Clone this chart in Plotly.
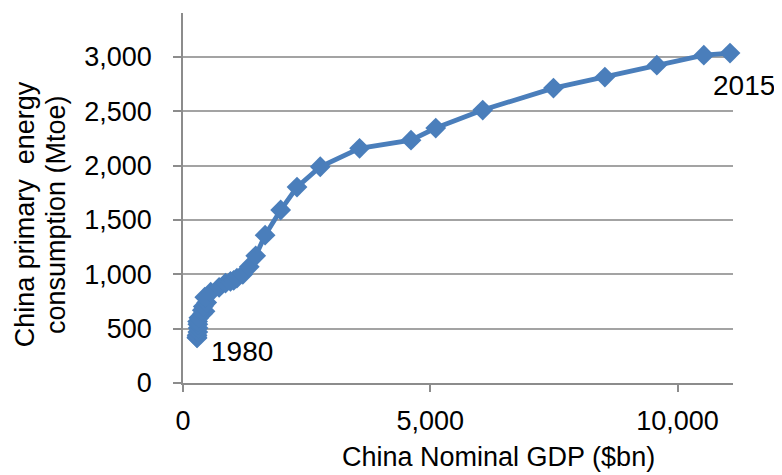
import plotly.graph_objects as go

years = list(range(1980, 2016))
gdp_bn = [285, 280, 285, 300, 305, 300, 295, 320, 400, 445, 390, 410, 480, 440, 560,
          730, 860, 960, 1025, 1090, 1210, 1340, 1470, 1660, 1975, 2305, 2775, 3570,
          4610, 5110, 6060, 7490, 8530, 9580, 10530, 11060]
energy_mtoe = [415, 420, 440, 470, 505, 540, 565, 600, 640, 660, 670, 705, 740, 790, 835,
               880, 920, 935, 945, 965, 1000, 1070, 1170, 1360, 1592, 1803, 1990, 2160,
               2235, 2346, 2512, 2714, 2815, 2925, 3017, 3036]
x_ticks = [0, 5000, 10000]
y_ticks = [0, 500, 1000, 1500, 2000, 2500, 3000]

FONT = "Liberation Sans, Arial, sans-serif"
BLUE = "#4a7ebb"
GRID = "#a3a3a3"
AXIS = "#8c8c8c"

fig = go.Figure()
fig.add_trace(go.Scatter(
    x=gdp_bn, y=energy_mtoe, mode="lines+markers",
    line=dict(color=BLUE, width=4.8),
    marker=dict(symbol="diamond", size=16, color=BLUE),
    cliponaxis=False, showlegend=False, hoverinfo="skip",
))

fig.add_annotation(x=gdp_bn[0], y=energy_mtoe[0], text=str(years[0]), showarrow=False,
                   xshift=45, yshift=-14, font=dict(size=28, color="#000", family=FONT))
fig.add_annotation(x=gdp_bn[-1], y=energy_mtoe[-1], text=str(years[-1]), showarrow=False,
                   xshift=14, yshift=-32, font=dict(size=28, color="#000", family=FONT))

# axis titles
fig.add_annotation(xref="paper", yref="paper", x=0.573, y=-0.2, text="China Nominal GDP ($bn)",
                   showarrow=False, xanchor="center", yanchor="middle",
                   font=dict(size=27, color="#000", family=FONT))
fig.add_annotation(xref="paper", yref="paper", x=-0.288, y=0.455,
                   text="China primary  energy",
                   showarrow=False, textangle=-90, xanchor="center", yanchor="middle",
                   font=dict(size=27, color="#000", family=FONT))
fig.add_annotation(xref="paper", yref="paper", x=-0.232, y=0.455,
                   text="consumption (Mtoe)",
                   showarrow=False, textangle=-90, xanchor="center", yanchor="middle",
                   font=dict(size=27, color="#000", family=FONT))

fig.update_xaxes(range=[0, 11120], tickvals=x_ticks, ticktext=[f"{v:,}" for v in x_ticks],
                 showgrid=False, zeroline=False, showline=True, linecolor=AXIS, linewidth=1.5,
                 ticks="outside", ticklen=7, tickcolor=AXIS, tickwidth=1.5,
                 ticklabelstandoff=6,
                 tickfont=dict(size=27, color="#000", family=FONT))
fig.update_yaxes(range=[0, 3405], tickvals=y_ticks, ticktext=[f"{v:,}" for v in y_ticks],
                 showgrid=True, gridcolor=GRID, gridwidth=1.5, zeroline=False,
                 showline=True, linecolor=AXIS, linewidth=1.5,
                 ticks="outside", ticklen=8, tickcolor=AXIS, tickwidth=1.5,
                 ticklabelstandoff=16,
                 tickfont=dict(size=27, color="#000", family=FONT))

# page body has an 8px margin, so the figure is sized/offset to land on the reference frame
fig.update_layout(width=774, height=467, margin=dict(l=175, r=49, t=5, b=92),
                  plot_bgcolor="white", paper_bgcolor="white",
                  font=dict(family=FONT, size=27, color="#000"))

fig.write_html("out.html")
